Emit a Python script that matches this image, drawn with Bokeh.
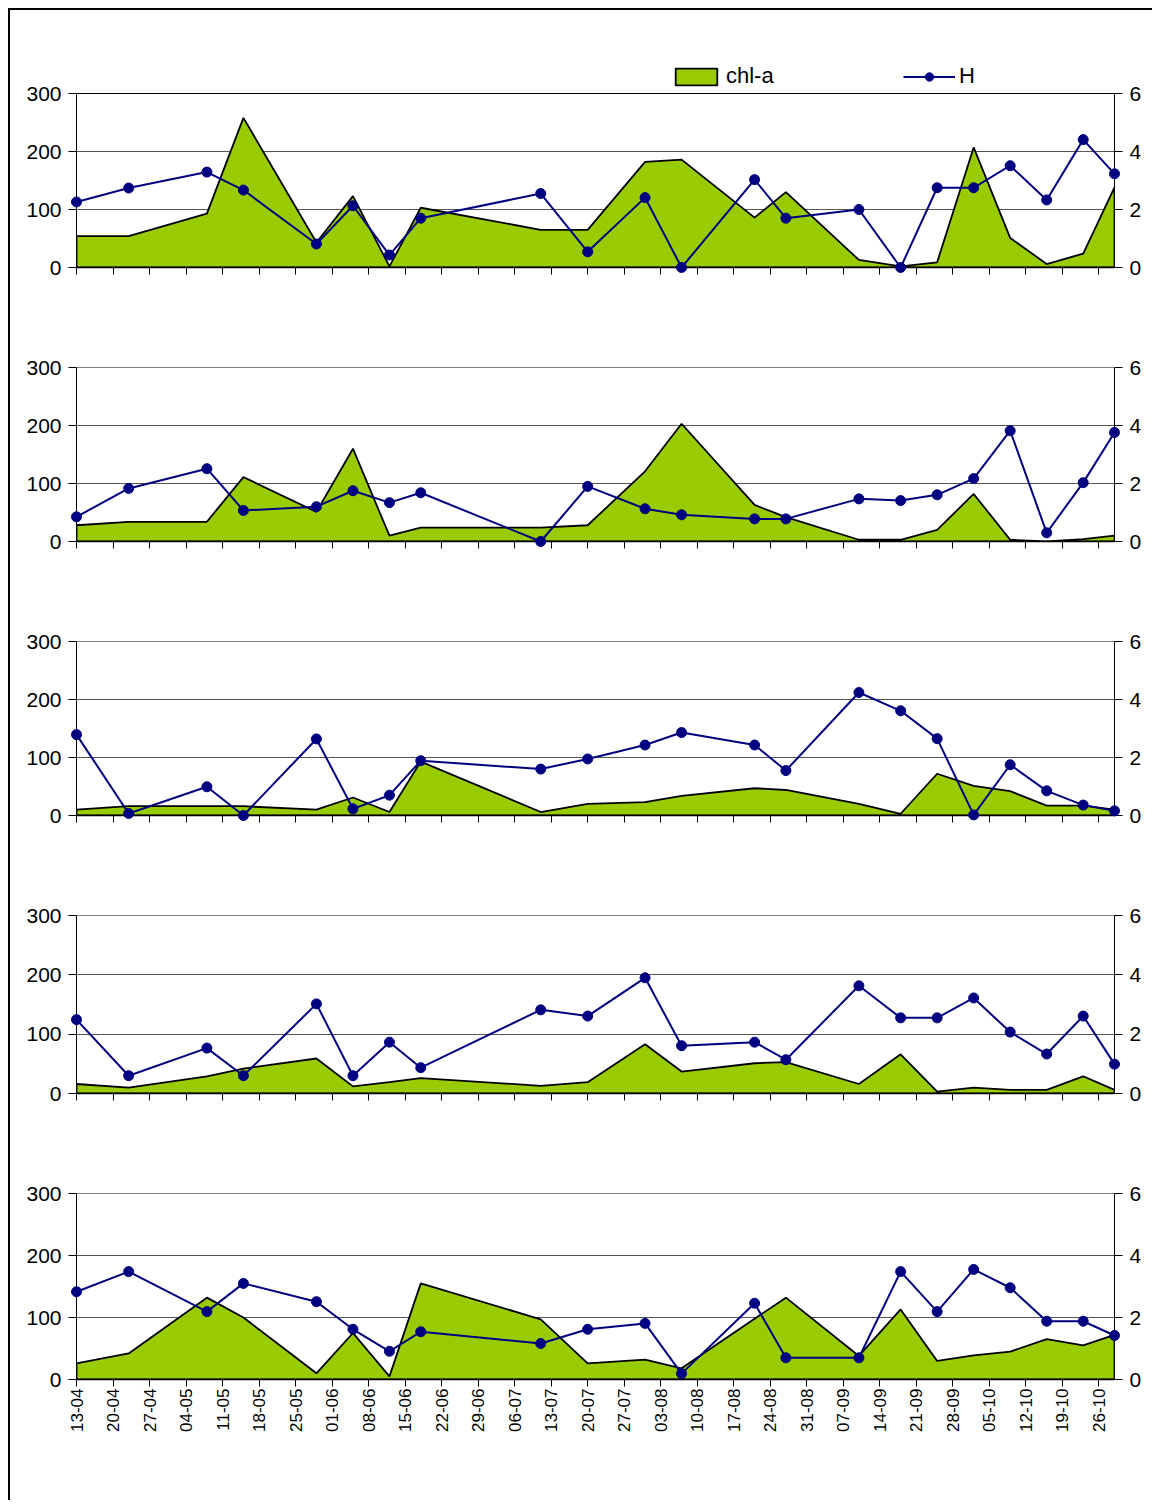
import datetime as dt
from math import pi

from bokeh.plotting import figure
from bokeh.models import (Range1d, LinearAxis, FixedTicker, Legend, LegendItem, Spacer, Span)
from bokeh.layouts import column, row
from bokeh.embed import file_html
from bokeh.resources import INLINE

YEAR = 2001

# Sampling dates (dd-mm)
DATES = ["13-04", "23-04", "08-05", "15-05", "29-05", "05-06", "12-06", "18-06",
         "11-07", "20-07", "31-07", "07-08", "21-08", "27-08", "10-09", "18-09",
         "25-09", "02-10", "09-10", "16-10", "23-10", "29-10"]

# Weekly tick labels on the date axis
TICK_LABELS = ["13-04", "20-04", "27-04", "04-05", "11-05", "18-05", "25-05", "01-06",
               "08-06", "15-06", "22-06", "29-06", "06-07", "13-07", "20-07", "27-07",
               "03-08", "10-08", "17-08", "24-08", "31-08", "07-09", "14-09", "21-09",
               "28-09", "05-10", "12-10", "19-10", "26-10"]

LEFT_TICKS = [0, 100, 200, 300]
RIGHT_TICKS = [0, 2, 4, 6]

# chl-a (left axis) and H (right axis) for the five panels
CHL_1 = [54, 54, 93, 258, 43, 123, 2, 103, 65, 65, 182, 186, 86, 130, 13, 2, 9, 207, 51, 6, 24, 138]
H_1 = [2.26, 2.74, 3.29, 2.67, 0.81, 2.13, 0.43, 1.70, 2.55, 0.54, 2.41, 0.0, 3.03, 1.70, 2.00, 0.0,
       2.75, 2.75, 3.51, 2.33, 4.41, 3.23]

CHL_2 = [28, 34, 34, 111, 51, 160, 10, 24, 24, 28, 121, 203, 63, 42, 3, 3, 20, 82, 3, 0, 4, 10]
H_2 = [0.85, 1.83, 2.51, 1.07, 1.20, 1.75, 1.34, 1.68, 0.0, 1.90, 1.13, 0.92, 0.78, 0.78, 1.47, 1.41,
       1.61, 2.17, 3.82, 0.30, 2.03, 3.76]

CHL_3 = [10, 16, 16, 16, 10, 31, 6, 93, 6, 20, 23, 34, 47, 44, 20, 3, 72, 51, 42, 17, 17, 10]
H_3 = [2.79, 0.07, 0.99, 0.0, 2.64, 0.23, 0.70, 1.89, 1.60, 1.95, 2.43, 2.86, 2.43, 1.55, 4.24, 3.61,
       2.65, 0.02, 1.75, 0.85, 0.36, 0.16]

CHL_4 = [16, 10, 29, 42, 59, 12, 19, 26, 13, 19, 83, 37, 51, 53, 16, 66, 3, 10, 6, 6, 29, 6]
H_4 = [2.49, 0.60, 1.53, 0.60, 3.02, 0.60, 1.73, 0.87, 2.82, 2.61, 3.90, 1.61, 1.73, 1.14, 3.63, 2.55,
       2.55, 3.22, 2.07, 1.33, 2.61, 0.99]

CHL_5 = [26, 42, 132, 100, 10, 75, 5, 155, 97, 26, 32, 18, 98, 132, 38, 113, 30, 39, 45, 65, 55, 72]
H_5 = [2.83, 3.48, 2.19, 3.10, 2.51, 1.62, 0.91, 1.54, 1.16, 1.62, 1.81, 0.19, 2.46, 0.70, 0.70, 3.48,
       2.19, 3.55, 2.96, 1.88, 1.88, 1.42]

Y_MAX = 300
H_MAX = 6

GREEN = "#99CC00"
NAVY = "#000080"
FONT = "Liberation Sans"


def to_date(s):
    d, m = (int(v) for v in s.split("-"))
    return dt.date(YEAR, m, d)


START = to_date(DATES[0])
XD = [(to_date(s) - START).days for s in DATES]
XT = [(to_date(s) - START).days for s in TICK_LABELS]

W = 1142
ML, MR = 66, 38


def make_panel(chl, h, height, top, bottom, show_labels, legend_space=0):
    """legend_space: extra frame pixels above the 300 line (used to host the legend)."""
    frame_h = height - top - bottom
    box_h = frame_h - legend_space
    scale = frame_h / box_h
    p = figure(width=W, height=height, x_range=Range1d(XD[0], XD[-1]),
               y_range=Range1d(0, Y_MAX * scale),
               output_backend="svg", toolbar_location=None,
               min_border_left=ML, min_border_right=MR,
               min_border_top=top, min_border_bottom=bottom)
    p.extra_y_ranges = {"h": Range1d(0, H_MAX * scale)}
    p.background_fill_color = "white"
    p.border_fill_color = "white"
    p.outline_line_color = None

    # area (chl-a)
    xs = XD + XD[::-1]
    ys = list(chl) + [0] * len(chl)
    pr = p.patch(xs, ys, fill_color=GREEN, line_color="black", line_width=1.8)

    # H line with markers
    lr = p.line(XD, h, y_range_name="h", line_color=NAVY, line_width=2)
    sr = p.scatter(XD, h, y_range_name="h", size=10, fill_color=NAVY, line_color=NAVY)
    lr.level = "overlay"
    sr.level = "overlay"

    # grid
    p.xgrid.visible = False
    p.ygrid.ticker = FixedTicker(ticks=LEFT_TICKS[1:-1])
    p.ygrid.grid_line_color = "#555555"
    p.ygrid.grid_line_width = 1
    p.add_layout(Span(location=Y_MAX, dimension="width", line_color="black", line_width=1))

    # left axis
    ya = p.yaxis[0]
    ya.ticker = FixedTicker(ticks=LEFT_TICKS)
    ya.bounds = (0, Y_MAX)
    ya.axis_line_color = "black"
    ya.major_tick_line_color = "black"
    ya.major_tick_out = 8
    ya.major_tick_in = 0
    ya.minor_tick_line_color = None
    ya.major_label_standoff = 7
    ya.major_label_text_font = FONT
    ya.major_label_text_font_size = "21px"
    ya.major_label_text_color = "black"

    # right axis
    ra = LinearAxis(y_range_name="h", ticker=FixedTicker(ticks=RIGHT_TICKS), bounds=(0, H_MAX))
    ra.axis_line_color = "black"
    ra.major_tick_line_color = "black"
    ra.major_tick_out = 8
    ra.major_tick_in = 0
    ra.minor_tick_line_color = None
    ra.major_label_standoff = 7
    ra.major_label_text_font = FONT
    ra.major_label_text_font_size = "21px"
    ra.major_label_text_color = "black"
    p.add_layout(ra, "right")

    # date axis
    xa = p.xaxis[0]
    xa.ticker = FixedTicker(ticks=XT)
    xa.axis_line_color = "black"
    xa.axis_line_width = 1.5
    xa.major_tick_line_color = "black"
    xa.major_tick_out = 7
    xa.major_tick_in = 0
    xa.minor_tick_line_color = None
    if show_labels:
        xa.major_label_overrides = {t: lab for t, lab in zip(XT, TICK_LABELS)}
        xa.major_label_orientation = pi / 2
        xa.major_label_standoff = 2
        xa.major_label_text_font = FONT
        xa.major_label_text_font_size = "17px"
        xa.major_label_text_color = "black"
    else:
        xa.major_label_overrides = {t: "" for t in XT}
        xa.major_label_text_font_size = "1px"

    if legend_space:
        legend = Legend(
            items=[LegendItem(label="chl-a", renderers=[pr]),
                   LegendItem(label="H", renderers=[lr, sr])],
            orientation="horizontal",
            location=(594, box_h + 4),
            padding=0, margin=0, spacing=0,
            glyph_width=52, glyph_height=21,
            label_standoff=4, label_width=177,
            border_line_color=None, background_fill_alpha=0,
            label_text_font=FONT, label_text_font_size="22px",
            label_text_color="black",
        )
        p.add_layout(legend)
    return p


p1 = make_panel(CHL_1, H_1, 290, 50, 33, False, legend_space=33)
p2 = make_panel(CHL_2, H_2, 274, 67, 33, False)
p3 = make_panel(CHL_3, H_3, 274, 67, 33, False)
p4 = make_panel(CHL_4, H_4, 278, 67, 33, False)
p5 = make_panel(CHL_5, H_5, 374, 67, 121, True)

framed = column(p1, p2, p3, p4, p5,
                styles={"border-left": "2px solid black", "border-top": "2px solid black"})
layout = column(Spacer(height=8, width=8), row(Spacer(width=8, height=8), framed))

open("out.html", "w").write(file_html(layout, INLINE))
